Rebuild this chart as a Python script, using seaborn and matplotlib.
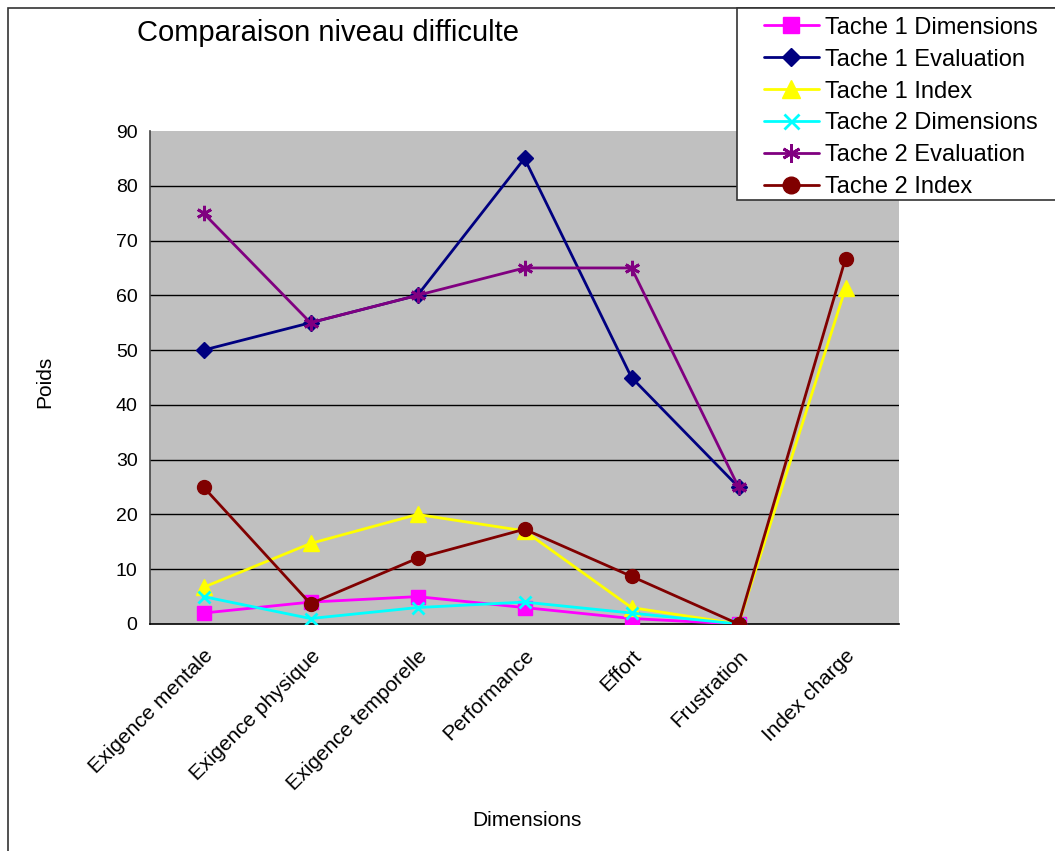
import numpy as np
import pandas as pd
import matplotlib
matplotlib.use("Agg")
import matplotlib.pyplot as plt
import seaborn as sns
from matplotlib.patches import Rectangle

categories = ["Exigence mentale", "Exigence physique", "Exigence temporelle",
              "Performance", "Effort", "Frustration", "Index charge"]

t1_dimensions = [2, 4, 5, 3, 1, 0, np.nan]
t1_evaluation = [50, 55, 60, 85, 45, 25, np.nan]
t1_index = [6.7, 14.7, 20, 17, 3, 0, 61.3]
t2_dimensions = [5, 1, 3, 4, 2, 0, np.nan]
t2_evaluation = [75, 55, 60, 65, 65, 25, np.nan]
t2_index = [25, 3.7, 12, 17.3, 8.7, 0, 66.7]

series_names = ["Tache 1 Dimensions", "Tache 1 Evaluation", "Tache 1 Index",
                "Tache 2 Dimensions", "Tache 2 Evaluation", "Tache 2 Index"]
series_values = [t1_dimensions, t1_evaluation, t1_index,
                 t2_dimensions, t2_evaluation, t2_index]

y_ticks = [0, 10, 20, 30, 40, 50, 60, 70, 80, 90]

colors = ["#FF00FF", "#000080", "#FFFF00", "#00FFFF", "#800080", "#800000"]
markers = ["s", "D", "^", "x", (6, 2, 0), "o"]
msizes = [10, 8, 11, 9, 11, 10]

sns.set_style("white")
plt.rcParams["font.family"] = ["Liberation Sans", "DejaVu Sans"]
plt.rcParams["text.color"] = "black"
plt.rcParams["xtick.color"] = "black"
plt.rcParams["ytick.color"] = "black"
plt.rcParams["axes.labelcolor"] = "black"

fig = plt.figure(figsize=(10.55, 8.51), dpi=100)
ax = fig.add_axes([150 / 1055, 1 - 624 / 851, 749 / 1055, 493 / 851])
ax.set_facecolor("#C0C0C0")

# outer chart frame
fig.patches.append(Rectangle((8 / 1055, -0.05), 1.1, 1 - 8 / 851 + 0.05,
                             transform=fig.transFigure, fill=False,
                             edgecolor="#333333", linewidth=1.2, zorder=0))

for y in y_ticks[1:-1]:
    ax.axhline(y, color="black", linewidth=1.0, zorder=1)

x_pos = np.arange(len(categories))
for name, vals, c, m, ms in zip(series_names, series_values, colors, markers, msizes):
    df = pd.DataFrame({"x": x_pos, "y": vals}).dropna()
    sns.lineplot(data=df, x="x", y="y", ax=ax, color=c, linewidth=2,
                 marker=m, markersize=ms, markeredgecolor=c,
                 markeredgewidth=2 if m in ("x", (6, 2, 0)) else 1,
                 label=name, zorder=3)

ax.set_xlim(-0.5, len(categories) - 0.5)
ax.set_ylim(0, 90)
ax.set_yticks(y_ticks)
ax.set_yticklabels([str(v) for v in y_ticks], fontsize=14)
ax.set_xticks(np.arange(-0.5, len(categories)), minor=False)
ax.set_xticklabels([])
ax.set_xticks(x_pos, minor=True)
ax.set_xticklabels(categories, minor=True, rotation=45, ha="right", va="top",
                   rotation_mode="anchor", fontsize=15)
ax.tick_params(axis="x", which="major", direction="out", length=6, width=1, color="black")
ax.tick_params(axis="x", which="minor", length=0, pad=16)
ax.tick_params(axis="y", direction="out", length=5, width=1, color="black", pad=4)

for side in ("top", "right"):
    ax.spines[side].set_visible(False)
ax.spines["left"].set_color("#444444")
ax.spines["bottom"].set_color("black")
ax.spines["left"].set_linewidth(1.2)
ax.spines["bottom"].set_linewidth(1.2)

ax.set_xlabel("")
ax.set_ylabel("")
fig.text(45 / 1055, 1 - 382 / 851, "Poids", rotation=90, ha="center", va="center", fontsize=15)
fig.text(527 / 1055, 1 - 821 / 851, "Dimensions", ha="center", va="center", fontsize=15)
fig.text(328 / 1055, 1 - 33 / 851, "Comparaison niveau difficulte", ha="center",
         va="center", fontsize=21)

# legend box runs past the right edge of the figure
handles, labels = ax.get_legend_handles_labels()
ax.get_legend().remove()
box = Rectangle((737 / 1055, 1 - 200 / 851), 0.4, 192 / 851,
                transform=fig.transFigure, facecolor="white",
                edgecolor="#333333", linewidth=1.2, zorder=5)
fig.patches.append(box)
leg = fig.legend(handles, labels, loc="upper left",
                 bbox_to_anchor=(759 / 1055, 1 - 12 / 851),
                 bbox_transform=fig.transFigure, frameon=False,
                 fontsize=17, handlelength=2.35, handletextpad=0.25,
                 labelspacing=0.42, borderpad=0.2, borderaxespad=0,
                 markerscale=1.2)
leg.set_zorder(6)

fig.savefig("out.png", dpi=100)
